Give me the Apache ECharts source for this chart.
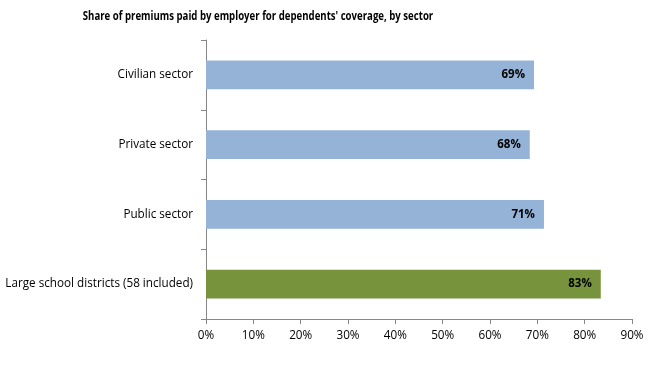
<!DOCTYPE html>
<html><head><meta charset="utf-8">
<script src="https://cdn.jsdelivr.net/npm/echarts@6/dist/echarts.min.js"></script>
<style>html,body{margin:0;padding:0;background:#fff}#c{width:665px;height:368px}</style>
</head><body><div id="c"></div>
<script>
const categories = ['Civilian sector', 'Private sector', 'Public sector', 'Large school districts (58 included)'];
const values = [69.3, 68.4, 71.4, 83.4];
const barColors = ['#95B3D7', '#95B3D7', '#95B3D7', '#77933C'];
const xTicks = [0, 10, 20, 30, 40, 50, 60, 70, 80, 90];
const titleText = "Share of premiums paid by employer for dependents' coverage, by sector";

const font = 'Open Sans';
const chart = echarts.init(document.getElementById('c'), null, {renderer: 'canvas'});
chart.setOption({
  animation: false,
  backgroundColor: '#fff',
  graphic: [{
    type: 'text', x: 258, y: 10, scaleX: 0.74, originX: 0,
    style: {
      text: titleText, textAlign: 'center', textVerticalAlign: 'top',
      font: 'bold 13px "Open Sans"', fill: '#000'
    }
  }],
  grid: {left: 206, right: 33, top: 40, bottom: 49, containLabel: false},
  xAxis: {
    type: 'value', min: xTicks[0], max: xTicks[xTicks.length - 1], interval: 10,
    axisLine: {show: true, lineStyle: {color: '#868686', width: 1}},
    axisTick: {show: true, length: 5, lineStyle: {color: '#868686'}},
    splitLine: {show: false},
    axisLabel: {formatter: v => v + '%', margin: 11, fontFamily: font, fontSize: 11.7, color: '#000'}
  },
  yAxis: {
    type: 'category', data: categories, inverse: true,
    axisLine: {show: true, lineStyle: {color: '#868686', width: 1}},
    axisTick: {show: true, length: 5, lineStyle: {color: '#868686'}},
    axisLabel: {margin: 13, fontFamily: font, fontSize: 11.7, color: '#000'}
  },
  series: [{
    type: 'bar',
    data: values.map((v, i) => ({value: v, itemStyle: {color: barColors[i]}})),
    barCategoryGap: '59%',
    label: {
      show: true, position: 'insideRight', distance: 9,
      formatter: p => Math.round(p.value) + '%',
      fontFamily: font, fontSize: 11.5, fontWeight: 'bold', color: '#000'
    }
  }]
});
</script></body></html>
